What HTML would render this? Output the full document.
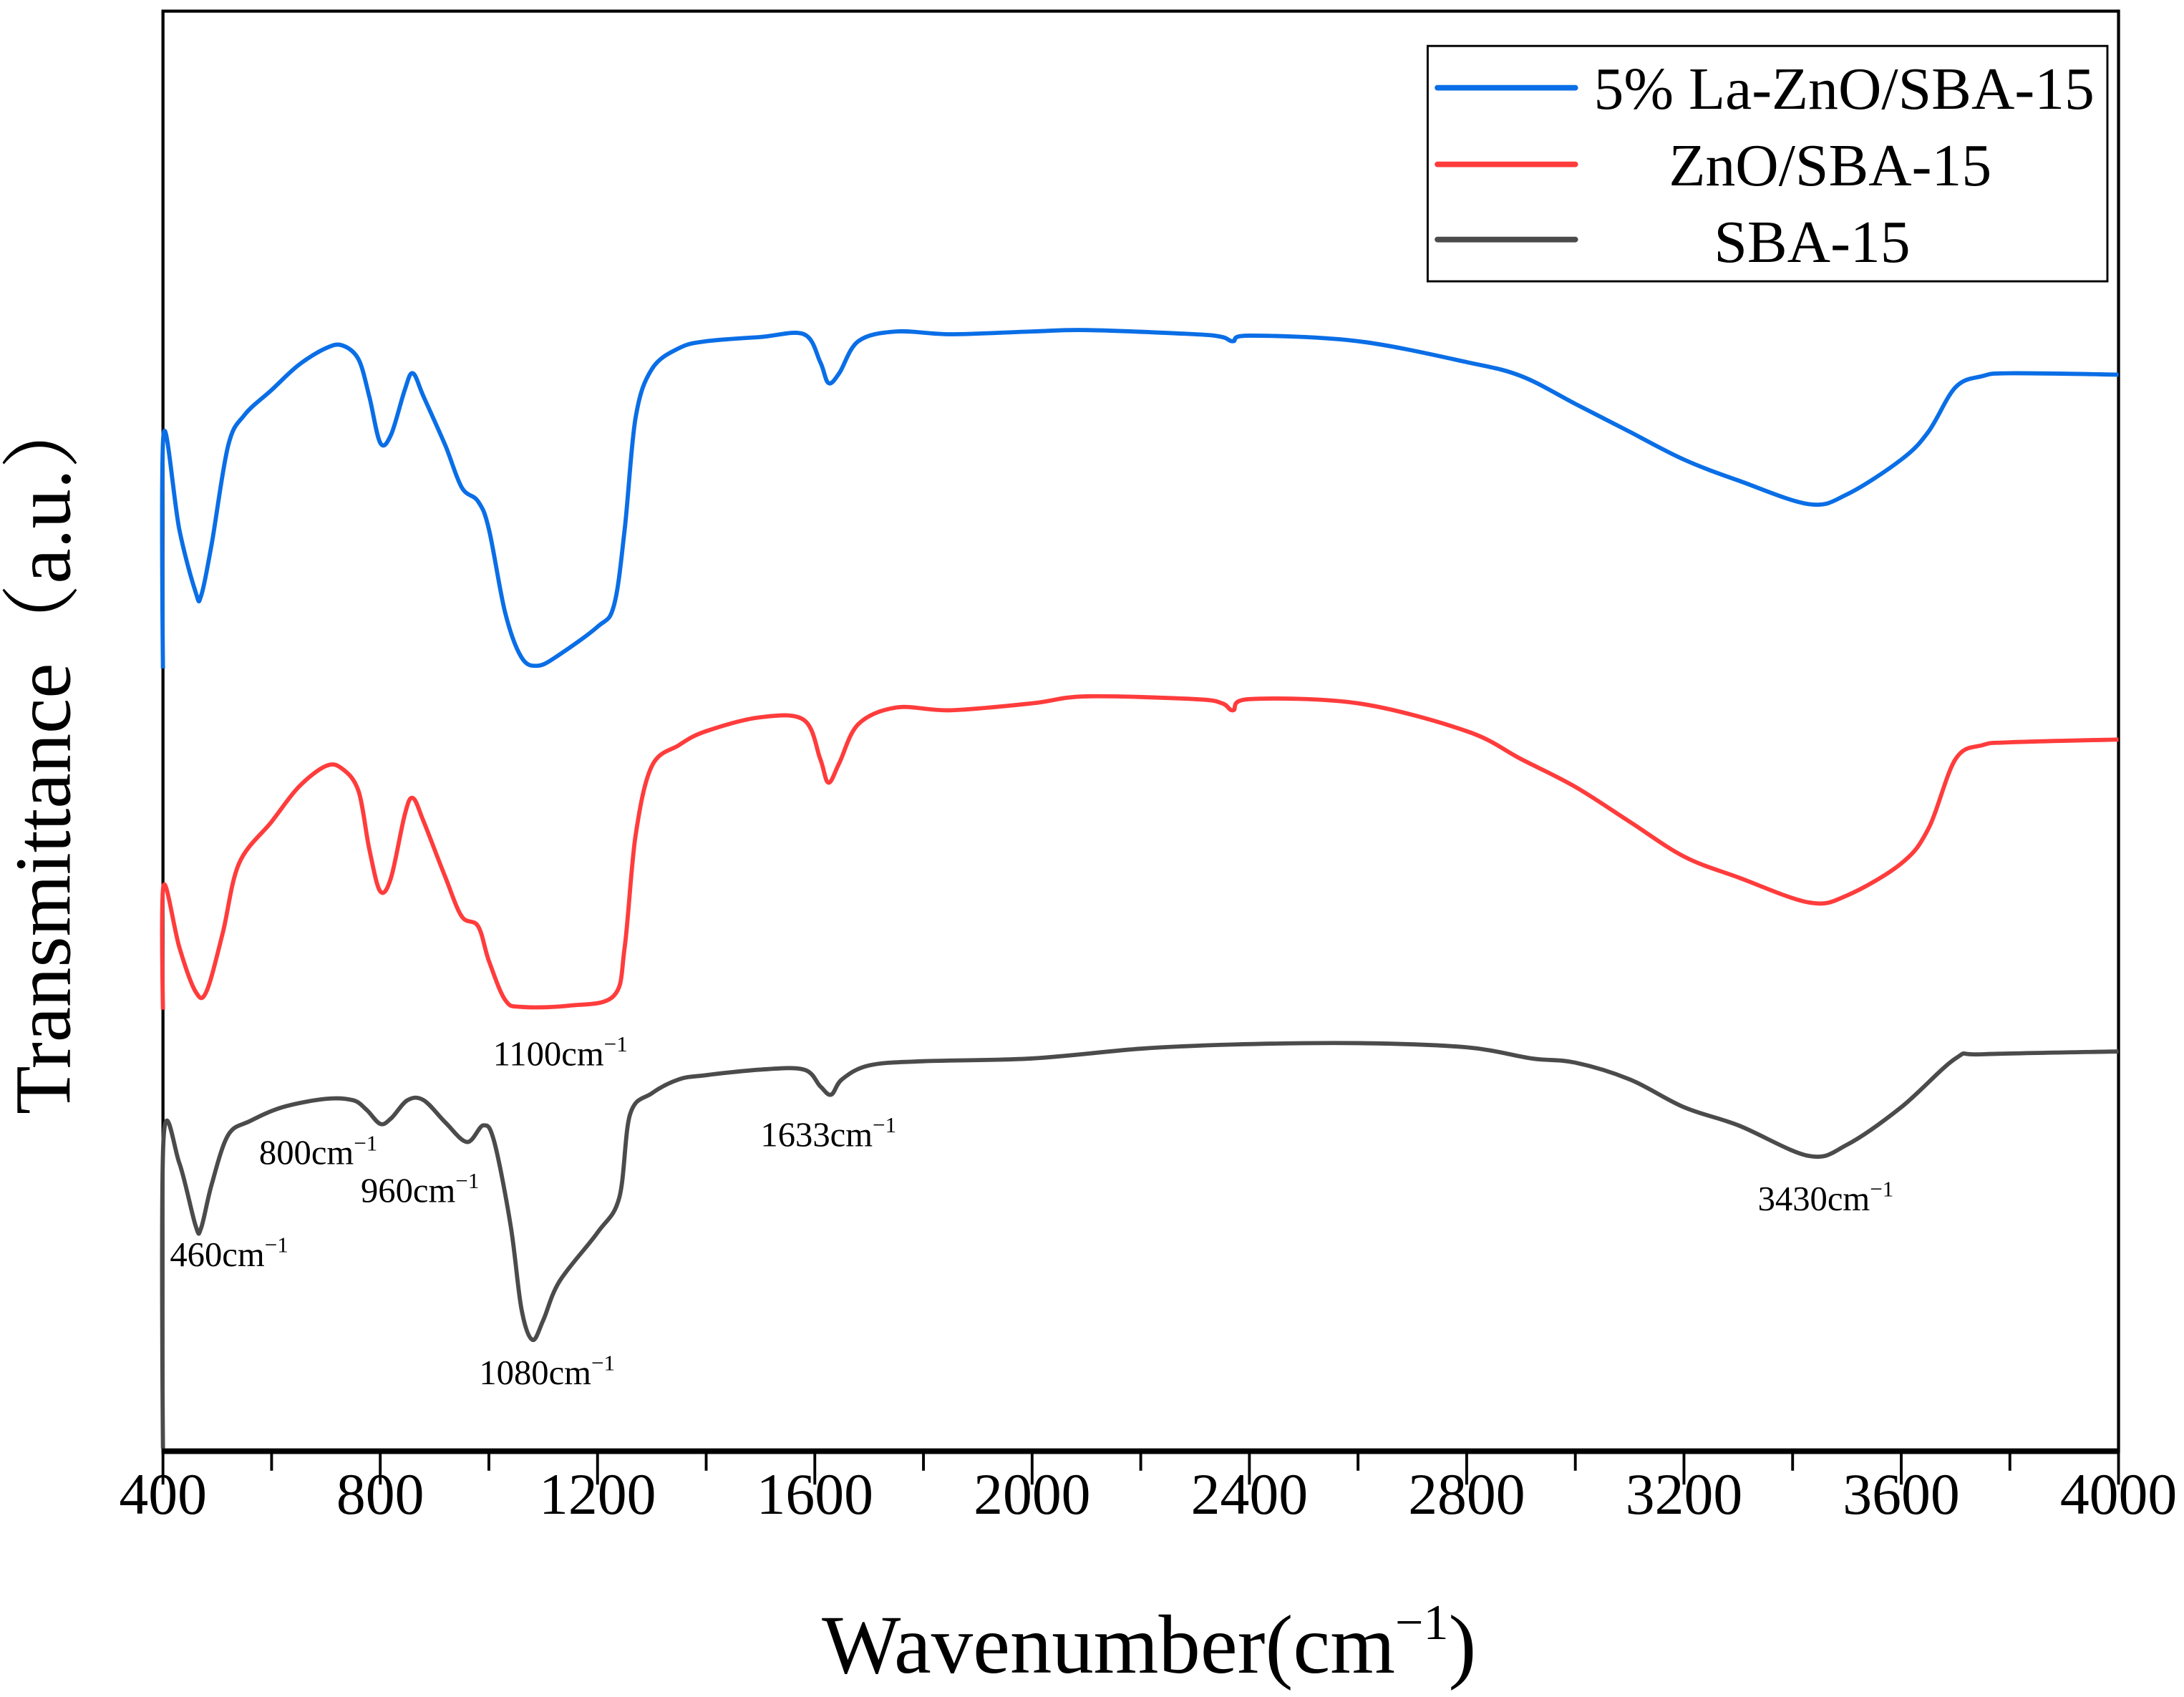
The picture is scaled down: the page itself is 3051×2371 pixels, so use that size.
<!DOCTYPE html>
<html><head><meta charset="utf-8"><style>
html,body{margin:0;padding:0;background:#fff}
svg{display:block}
text{font-family:"Liberation Serif","Noto Serif CJK SC",serif;fill:#000}
</style></head><body>
<svg id="chart" width="3051" height="2371" viewBox="0 0 1568 1218.5" preserveAspectRatio="none" xmlns="http://www.w3.org/2000/svg">
<rect x="117" y="8" width="1404" height="1034" fill="#fff" stroke="#000" stroke-width="2.2"/>
<line x1="116" y1="1042" x2="1522" y2="1042" stroke="#000" stroke-width="4"/>
<g id="ticks"></g>
<g id="series"></g>
<g id="annots" font-size="25"></g>
<text x="825" y="1201" font-size="60" text-anchor="middle">Wavenumber(cm<tspan font-size="36" dy="-24">−1</tspan><tspan dy="24">)</tspan></text>
<text transform="translate(50,540) rotate(-90)" font-size="57" text-anchor="middle">Transmittance（a.u.）</text>
<g>
<rect x="1025" y="33" width="488" height="169" fill="#fff" stroke="#000" stroke-width="1.5"/>
<line x1="1032" y1="63" x2="1131" y2="63" stroke="#0a6ee6" stroke-width="4" stroke-linecap="round"/>
<text x="1324" y="78" font-size="43" text-anchor="middle">5% La-ZnO/SBA-15</text>
<line x1="1032" y1="118" x2="1131" y2="118" stroke="#ff3c3c" stroke-width="4" stroke-linecap="round"/>
<text x="1314" y="133" font-size="43" text-anchor="middle">ZnO/SBA-15</text>
<line x1="1032" y1="172" x2="1131" y2="172" stroke="#4b4b4b" stroke-width="4" stroke-linecap="round"/>
<text x="1301" y="188" font-size="43" text-anchor="middle">SBA-15</text>
</g>
</svg>
<script>
const xTicks=[400,800,1200,1600,2000,2400,2800,3200,3600,4000];
const xMinorTicks=[600,1000,1400,1800,2200,2600,3000,3400,3800];
const seriesNames=["5% La-ZnO/SBA-15","ZnO/SBA-15","SBA-15"];
const laWn=[400,401,430,460,470,490,520,550,600,650,700,730,760,780,800,820,845,860,880,920,950,980,1000,1030,1060,1090,1130,1200,1230,1250,1270,1300,1350,1400,1500,1580,1610,1625,1645,1680,1750,1850,2000,2100,2300,2350,2370,2400,2600,2800,2900,3000,3100,3200,3300,3430,3500,3600,3650,3700,3750,3800,4000];
const laT=[562,730,662,617,614,652,722,744,762,780,792,794,784,757,724,730,762,774,757,722,692,682,662,602,570,564,572,592,607,662,742,777,792,797,800,802,782,767,774,797,804,802,804,805,802,800,797,801,797,782,772,752,732,712,697,680,687,712,732,764,772,774,773];
const znoWn=[400,401,430,460,480,510,540,600,650,700,730,760,780,800,820,845,860,880,920,950,980,1000,1030,1060,1150,1230,1250,1270,1300,1350,1400,1500,1580,1610,1625,1645,1680,1750,1850,2000,2100,2300,2350,2370,2400,2600,2800,2900,3000,3100,3200,3300,3430,3500,3600,3650,3700,3750,3800,4000];
const znoT=[317,406,362,330,330,372,422,452,477,492,490,474,432,402,412,457,469,452,412,384,377,352,324,319,320,327,362,442,492,507,517,527,525,497,480,494,522,534,532,537,542,540,537,532,540,537,517,497,477,452,427,412,394,399,422,447,497,507,509,511];
const sbaWn=[400,401,430,460,470,490,520,560,620,700,750,775,800,820,850,880,920,960,990,1010,1040,1060,1080,1100,1130,1200,1240,1260,1300,1350,1400,1500,1580,1610,1630,1650,1700,1800,2000,2200,2370,2600,2800,2920,3000,3100,3200,3300,3430,3500,3600,3700,3750,4000];
const sbaT=[2,224,207,162,160,192,227,237,247,253,252,245,235,239,252,252,236,222,234,222,162,102,80,94,122,157,182,242,257,267,270,274,274,262,256,267,277,280,282,289,292,293,290,282,279,267,247,234,212,220,247,282,285,287];
const annotLabels=["460","800","960","1080","1100","1633","3430"];
const annotPos=[[122,909],[186,836],[259,863],[344,994],[354,765],[546,823],[1262,869]];
const NS="http://www.w3.org/2000/svg";
const X0=117,X1=1521,YB=1042;
function xs(w){return X0+(w-400)/3600*(X1-X0);}
function ys(v){return YB-v;}
const tg=document.getElementById('ticks');
xTicks.forEach(t=>{
 const l=document.createElementNS(NS,'line');
 l.setAttribute('x1',xs(t));l.setAttribute('x2',xs(t));l.setAttribute('y1',1042);l.setAttribute('y2',1066);
 l.setAttribute('stroke','#000');l.setAttribute('stroke-width','2');
 
 
 tg.appendChild(l);
 const tx=document.createElementNS(NS,'text');
 tx.setAttribute('x',xs(t));tx.setAttribute('y',1087);tx.setAttribute('font-size','42');tx.setAttribute('text-anchor','middle');
 tx.textContent=t;
 
 
 tg.appendChild(tx);
});
xMinorTicks.forEach(t=>{
 const l=document.createElementNS(NS,'line');
 l.setAttribute('x1',xs(t));l.setAttribute('x2',xs(t));l.setAttribute('y1',1042);l.setAttribute('y2',1056);
 l.setAttribute('stroke','#000');l.setAttribute('stroke-width','2');
 
 
 tg.appendChild(l);
});
const sg=document.getElementById('series');
function drawSeries(wn,vals,color,name){
 const P=wn.map((w,i)=>[xs(w),ys(vals[i])]);
 let d='M'+P[0][0].toFixed(1)+','+P[0][1].toFixed(1);
 for(let i=0;i<P.length-1;i++){
  const p0=P[Math.max(i-1,0)],p1=P[i],p2=P[i+1],p3=P[Math.min(i+2,P.length-1)];
  const t=(i===0)?0:1/6;
  const c1=[p1[0]+(p2[0]-p0[0])*t,p1[1]+(p2[1]-p0[1])*t];
  const c2=[p2[0]-(p3[0]-p1[0])/6,p2[1]-(p3[1]-p1[1])/6];
  d+='C'+c1[0].toFixed(1)+','+c1[1].toFixed(1)+' '+c2[0].toFixed(1)+','+c2[1].toFixed(1)+' '+p2[0].toFixed(1)+','+p2[1].toFixed(1);
 }
 const p=document.createElementNS(NS,'path');
 p.setAttribute('d',d);p.setAttribute('fill','none');p.setAttribute('stroke',color);
 p.setAttribute('stroke-width','3');p.setAttribute('stroke-linejoin','round');
 
 
 sg.appendChild(p);
}
drawSeries(sbaWn,sbaT,'#4b4b4b','sba15-line');
drawSeries(znoWn,znoT,'#ff3c3c','zno-sba15-line');
drawSeries(laWn,laT,'#0a6ee6','la-zno-sba15-line');
const ag=document.getElementById('annots');
annotLabels.forEach((a,i)=>{
 const t=document.createElementNS(NS,'text');
 t.setAttribute('x',annotPos[i][0]);t.setAttribute('y',annotPos[i][1]);
 t.innerHTML=a+'cm<tspan font-size="16" dy="-10">−1</tspan>';
 
 
 ag.appendChild(t);
});
</script>
</body></html>
